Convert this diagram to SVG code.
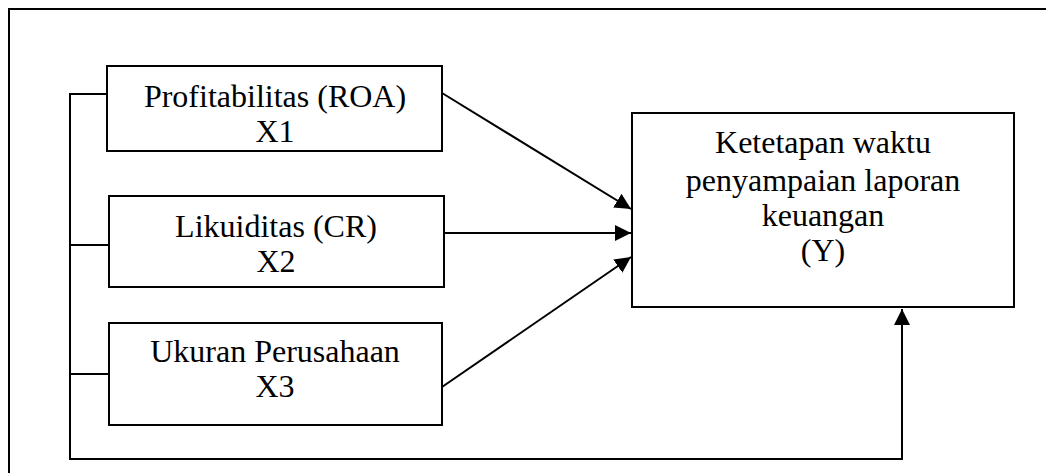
<svg xmlns="http://www.w3.org/2000/svg" width="1046" height="473" viewBox="0 0 1046 473">
<style>
.box{fill:#fff;stroke:#000;stroke-width:2}
.t{font-family:"Liberation Serif","Times New Roman",serif;font-size:32px;fill:#000;text-anchor:middle}
.ln{fill:none;stroke:#000;stroke-width:2}
</style>
<defs>
<marker id="ah" viewBox="0 0 16 16" refX="16" refY="8" markerWidth="16" markerHeight="16" markerUnits="userSpaceOnUse" orient="auto">
<path d="M0,0 L16,8 L0,16 Z" fill="#000"/>
</marker>
</defs>
<rect width="1046" height="473" fill="#fff"/>
<g id="frame"><path class="ln" d="M9,473 L9,9 L1046,9"/></g>
<g id="connectors">
<path class="ln" d="M107,94 L70,94 L70,459 L902,459 L902,309" marker-end="url(#ah)"/>
<path class="ln" d="M70,245 L109,245"/>
<path class="ln" d="M70,374 L109,374"/>
<path class="ln" d="M442,93 L631,209" marker-end="url(#ah)"/>
<path class="ln" d="M444,233 L631,233" marker-end="url(#ah)"/>
<path class="ln" d="M442,387 L631,257" marker-end="url(#ah)"/>
</g>
<g id="x1">
<rect class="box" x="107" y="66" width="335" height="85"/>
<text class="t" x="275" y="107">Profitabilitas (ROA)</text>
<text class="t" x="275" y="142">X1</text>
</g>
<g id="x2">
<rect class="box" x="109" y="196" width="335" height="91"/>
<text class="t" x="276" y="237">Likuiditas (CR)</text>
<text class="t" x="276" y="272">X2</text>
</g>
<g id="x3">
<rect class="box" x="109" y="323" width="333" height="102"/>
<text class="t" x="275" y="362">Ukuran Perusahaan</text>
<text class="t" x="275" y="397">X3</text>
</g>
<g id="y">
<rect class="box" x="632" y="113" width="382" height="194"/>
<text class="t" x="823" y="153">Ketetapan waktu</text>
<text class="t" x="823" y="191">penyampaian laporan</text>
<text class="t" x="823" y="226">keuangan</text>
<text class="t" x="823" y="261">(Y)</text>
</g>
</svg>
